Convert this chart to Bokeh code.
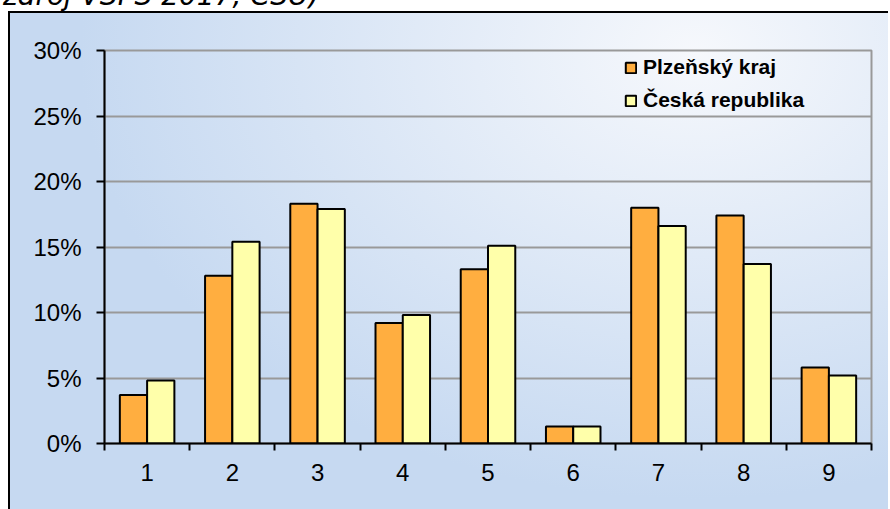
import numpy as np
from bokeh.plotting import figure
from bokeh.models import (FixedTicker, PrintfTickFormatter, Range1d, Legend,
                          LegendItem, Div, ColumnDataSource)
from bokeh.layouts import column
from bokeh.transform import dodge
from bokeh.embed import file_html
from bokeh.resources import INLINE

source_note = "(zdroj VŠPS 2017, ČSÚ)"
categories = ["1", "2", "3", "4", "5", "6", "7", "8", "9"]
series_names = ["Plzeňský kraj", "Česká republika"]
plzen = [3.7, 12.8, 18.3, 9.2, 13.3, 1.3, 18.0, 17.4, 5.8]
cr = [4.8, 15.4, 17.9, 9.8, 15.1, 1.3, 16.6, 13.7, 5.2]
y_ticks = [0, 5, 10, 15, 20, 25, 30]

xpos = np.arange(1, len(categories) + 1)
src = ColumnDataSource(dict(x=xpos, plzen=plzen, cr=cr))

FONT = "Liberation Sans"

p = figure(width=880, height=498, output_backend="svg", toolbar_location=None,
           x_range=Range1d(0.5, len(categories) + 0.5), y_range=Range1d(0, 30),
           min_border_left=94, min_border_right=19, min_border_top=37, min_border_bottom=68)
p.background_fill_color = None
p.border_fill_color = None
p.styles = {
    "background": "radial-gradient(ellipse 70% 90% at 78% 8%, #f6f8fc 0%, #c6d9f1 100%)",
    "border-left": "2px solid black",
    "border-top": "2px solid black",
    "margin-left": "8px",
}
p.outline_line_color = "#999999"
p.outline_line_width = 2

r1 = p.vbar(x=dodge("x", -0.16), top="plzen", width=0.32, source=src, fill_color="#ffae40",
            line_color="black", line_width=2)
r2 = p.vbar(x=dodge("x", 0.16), top="cr", width=0.32, source=src, fill_color="#ffffaa",
            line_color="black", line_width=2)

# y axis
yax = p.yaxis[0]
yax.ticker = FixedTicker(ticks=y_ticks)
yax.formatter = PrintfTickFormatter(format="%d%%")
yax.axis_line_color = "black"
yax.axis_line_width = 2
yax.major_tick_line_width = 2
yax.major_tick_out = 8
yax.major_tick_in = 0
yax.minor_tick_line_color = None
yax.major_label_text_font = FONT
yax.major_label_text_font_size = "24px"
yax.major_label_text_color = "black"
yax.major_label_standoff = 15

# x axis
xax = p.xaxis[0]
xax.ticker = FixedTicker(ticks=list(xpos), minor_ticks=list(np.arange(0.5, len(categories) + 1, 1.0)))
xax.major_label_overrides = {int(v): c for v, c in zip(xpos, categories)}
xax.axis_line_color = "black"
xax.axis_line_width = 2
xax.major_tick_out = 0
xax.major_tick_in = 0
xax.minor_tick_out = 7
xax.minor_tick_in = 0
xax.minor_tick_line_color = "black"
xax.minor_tick_line_width = 2
xax.major_label_text_font = FONT
xax.major_label_text_font_size = "24px"
xax.major_label_text_color = "black"
xax.major_label_standoff = 13

p.xgrid.grid_line_color = None
p.ygrid.grid_line_color = "#999999"
p.ygrid.grid_line_width = 2

legend = Legend(items=[LegendItem(label=series_names[0], renderers=[r1]),
                       LegendItem(label=series_names[1], renderers=[r2])],
                location=(520, 330))
legend.background_fill_alpha = 0
legend.border_line_color = None
legend.padding = 0
legend.margin = 0
legend.spacing = 7
legend.glyph_width = 13
legend.glyph_height = 13
legend.label_height = 26
legend.label_standoff = 6
legend.label_text_font = FONT
legend.label_text_font_style = "bold"
legend.label_text_font_size = "21px"
legend.label_text_color = "black"
p.add_layout(legend)

note = Div(text=source_note, width=880, height=24,
           styles={"font-family": "DejaVu Sans", "font-style": "italic",
                   "font-size": "28px", "line-height": "28px", "margin-top": "-18px",
                   "margin-left": "-8px",
                   "white-space": "nowrap", "color": "black"})

layout = column(note, p, spacing=0)
open("out.html", "w").write(file_html(layout, INLINE))
